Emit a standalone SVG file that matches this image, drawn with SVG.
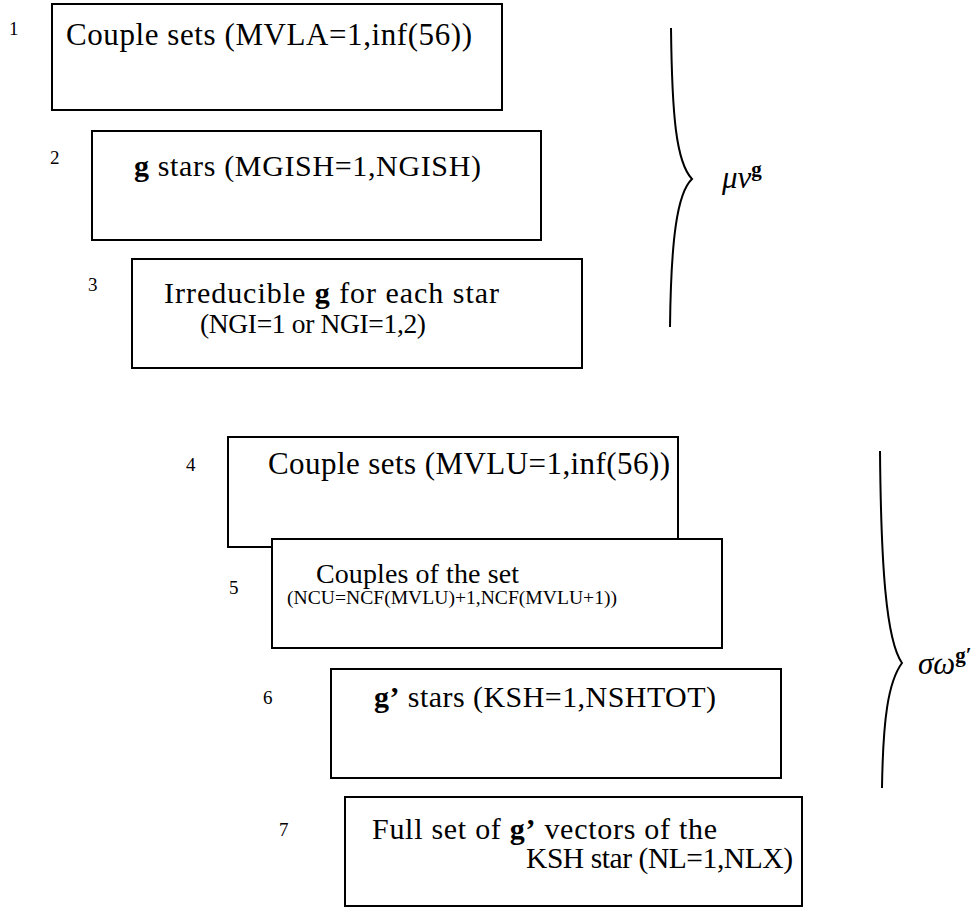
<svg xmlns="http://www.w3.org/2000/svg" width="979" height="909" viewBox="0 0 979 909">
<style>
.box{fill:#fff;stroke:#000;stroke-width:2}
.t{font-family:"Liberation Serif","Times New Roman",serif;fill:#000}
.s{font-family:"Liberation Serif","Times New Roman",serif;font-size:19.6px;fill:#000}
.n{font-family:"Liberation Serif","Times New Roman",serif;font-size:19px;fill:#000}
.m{font-family:"Liberation Serif","Times New Roman",serif;font-size:31px;font-style:italic;fill:#000}
.sup{font-style:normal;font-weight:bold;font-size:21px}
.b{font-weight:bold}
.brace{fill:none;stroke:#000;stroke-width:2}
</style>
<rect width="979" height="909" fill="#fff"/>
<g id="node1">
<rect class="box" x="52" y="4" width="450" height="106"/>
<text class="n" x="9" y="35">1</text>
<text class="t" x="66" y="45" font-size="31" textLength="406">Couple sets (MVLA=1,inf(56))</text>
</g>
<g id="node2">
<rect class="box" x="92" y="131" width="449" height="109"/>
<text class="n" x="50" y="164">2</text>
<text class="t" x="134" y="176" font-size="30" textLength="347"><tspan class="b">g</tspan> stars (MGISH=1,NGISH)</text>
</g>
<g id="node3">
<rect class="box" x="132" y="259" width="450" height="109"/>
<text class="n" x="88" y="291">3</text>
<text class="t" x="164" y="303" font-size="30" textLength="335">Irreducible <tspan class="b">g</tspan> for each star</text>
<text class="t" x="200" y="333" font-size="27.5" textLength="226">(NGI=1 or NGI=1,2)</text>
</g>
<g id="node4">
<rect class="box" x="228" y="437" width="450" height="110"/>
<text class="n" x="186" y="471">4</text>
<text class="t" x="268" y="474" font-size="31" textLength="402">Couple sets (MVLU=1,inf(56))</text>
</g>
<g id="node5">
<rect class="box" x="272" y="539" width="450" height="109"/>
<text class="n" x="229" y="594">5</text>
<text class="t" x="316" y="583" font-size="28" textLength="203">Couples of the set</text>
<text class="s" x="287" y="604" textLength="330">(NCU=NCF(MVLU)+1,NCF(MVLU+1))</text>
</g>
<g id="node6">
<rect class="box" x="331" y="669" width="450" height="109"/>
<text class="n" x="263" y="704">6</text>
<text class="t" x="374" y="707" font-size="30" textLength="342"><tspan class="b">g’</tspan> stars (KSH=1,NSHTOT)</text>
</g>
<g id="node7">
<rect class="box" x="345" y="797" width="457" height="109"/>
<text class="n" x="279" y="836">7</text>
<text class="t" x="372" y="839" font-size="30" textLength="345">Full set of <tspan class="b">g’</tspan> vectors of the</text>
<text class="t" x="526" y="868" font-size="29.5" textLength="267">KSH star (NL=1,NLX)</text>
</g>
<g id="connectors">
<path class="brace" d="M671,28 C672,115 676,162 692,179 C677,193 671,240 670,327"/>
<path class="brace" d="M880,451 C881,565 886,640 902,663 C888,682 883,720 882,788"/>
</g>
<g id="labels">
<text class="m" x="722" y="188">μν<tspan class="sup" dy="-12">g</tspan></text>
<text class="m" x="918" y="674">σω<tspan class="sup" dy="-12">g′</tspan></text>
</g>
</svg>
